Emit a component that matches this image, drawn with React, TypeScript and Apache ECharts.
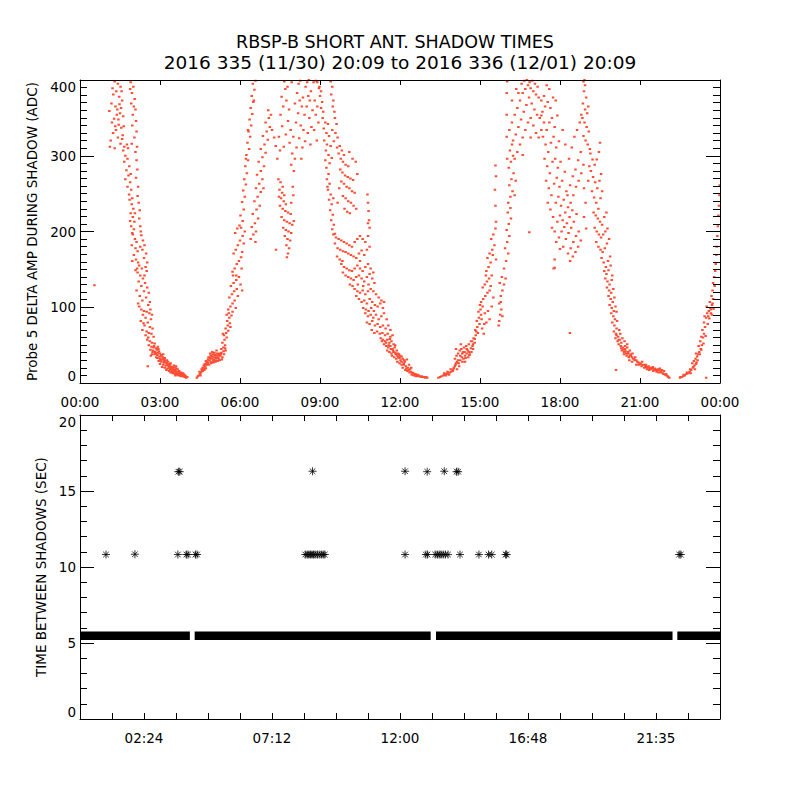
import React, { useEffect, useRef } from 'react';
import * as echarts from 'echarts';

const TITLE_LINE_1 = 'RBSP-B SHORT ANT. SHADOW TIMES';
const TITLE_LINE_2 = '2016 335 (11/30) 20:09 to 2016 336 (12/01) 20:09';
const TOP_Y_NAME = 'Probe 5 DELTA AMP DURING SHADOW (ADC)';
const BOTTOM_Y_NAME = 'TIME BETWEEN SHADOWS (SEC)';

const topTickLabels = ['00:00', '03:00', '06:00', '09:00', '12:00', '15:00', '18:00', '21:00', '00:00'];
const bottomTickHours = [2.4, 7.2, 12, 16.8, 21.6];
const bottomTickLabels = ['02:24', '07:12', '12:00', '16:48', '21:35'];

// ---- top panel: probe 5 delta amplitude (hour of day, ADC) ----
const branch1Upper = [[1.30,398],[1.42,395],[1.52,391],[1.36,385],[1.25,381],[1.47,378],[1.58,373],[1.18,369],[1.33,365],[1.40,361],[1.10,359],[1.50,356],[1.62,352],[1.28,349],[1.20,344],[1.45,341],[1.55,337],[1.35,334],[1.24,330],[1.60,327],[1.42,324],[1.15,320],[1.52,316],[1.66,312],[1.30,310],[1.38,354],[1.48,368],[1.22,389],[1.56,385],[1.32,339],[1.12,312],[1.64,339],[1.44,348],[1.54,363],
[1.90,397],[2.00,391],[1.95,383],[2.05,375],[1.92,369],[2.08,361],[1.98,354],[2.10,346],[1.96,340],[2.12,332],[2.04,324],[1.94,316],[2.14,312],[2.02,365],[1.88,388]];
const branch1Middle = [[1.62,307],[1.70,300],[1.78,296],[1.66,292],[1.85,286],[1.74,281],[1.82,274],[1.70,269],[1.88,265],[1.78,259],[1.92,255],[1.84,249],[2.08,305],[2.12,294],[2.15,282],[2.10,271],[2.18,259],[2.16,247],[1.96,244],[1.76,315],[1.58,322],[1.80,310],[1.90,276],
[1.86,242],[1.94,236],[2.00,230],[1.90,224],[1.98,219],[2.04,213],[1.92,207],[2.02,203],[2.20,238],[2.24,228],[2.22,217],[2.26,207],[2.28,200],[1.96,198],[2.06,224],[1.88,214],
[1.98,196],[2.06,190],[2.12,186],[1.94,182],[2.08,178],[2.16,174],[2.02,169],[2.10,163],[2.18,159],[2.30,195],[2.36,188],[2.42,182],[2.34,176],[2.48,171],[2.40,165],[2.52,159],[2.46,153],[2.14,151],[2.22,155],[1.96,161],[2.26,180],
[2.08,149],[2.16,146],[2.26,142],[2.36,138],[2.20,134],[2.44,132],[2.30,128],[2.52,126],[2.12,122],[2.40,121],[2.58,119],[2.24,115],[2.48,113],[2.34,109],[2.62,107],[2.18,105],[2.56,103],[2.42,142],[2.50,148],[2.32,151]];
const branch1Lower = [[2.22,101],[2.30,97],[2.40,95],[2.50,94],[2.60,92],[2.36,90],[2.46,86],[2.66,84],[2.28,82],[2.54,80],[2.42,76],[2.62,74],[2.72,72],[2.34,70],[2.50,68],[2.58,66],[2.68,65],[2.46,63],[2.76,61],[2.56,60],[2.38,79],[2.70,90],[2.64,97],
[2.52,57],[2.62,55],[2.70,53],[2.80,52],[2.58,50],[2.68,48],[2.76,47],[2.86,46],[2.64,44],[2.74,43],[2.82,41],[2.92,40],[3.00,39],[2.70,38],[2.80,38],[2.90,37],[3.06,36],[2.98,35],[2.86,34],[3.12,38],[2.72,41],[2.94,45],[2.66,36],
[2.90,33],[3.00,32],[3.10,31],[3.20,30],[2.95,29],[3.05,28],[3.15,27],[3.25,26],[3.35,25],[3.00,25],[3.12,24],[3.22,23],[3.32,22],[3.42,21],[3.08,21],[3.18,20],[3.28,19],[3.38,18],[3.48,18],[3.56,17],[3.24,17],[3.34,16],[3.44,16],[3.62,19],[3.30,28],[3.40,26],[3.52,23],[3.14,32],[3.60,22],
[3.52,15],[3.60,14],[3.68,13],[3.40,14],[3.48,13],[3.56,12],[3.64,11],[3.74,11],[3.82,10],[3.58,10],[3.70,10],[3.78,9],[3.86,9],[3.92,8],[3.98,7],[4.02,8],[3.72,16],[3.80,14],[3.88,12],[3.94,10],[3.66,15]];
const branch2Lower = [[4.38,7],[4.42,9],[4.46,10],[4.50,12],[4.54,14],[4.58,16],[4.62,18],[4.66,20],[4.70,22],[4.56,18],[4.60,20],[4.64,23],[4.68,25],[4.74,26],[4.52,10],[4.48,15],
[4.78,28],[4.86,30],[4.94,32],[5.02,31],[5.10,33],[5.18,34],[5.26,36],[4.82,34],[4.90,36],[4.98,38],[5.06,37],[5.14,39],[5.22,39],[5.30,40],[4.76,24],[4.84,24],[4.92,26],[5.00,27],[5.08,28],[5.16,29],[5.24,30],[5.34,34],[5.40,38],[5.46,43],[4.88,39],[4.96,41],[5.04,40],[5.12,43],
[5.30,45],[5.38,47],[5.44,50],[5.34,53],[5.42,57],[5.50,60],[5.40,63],[5.48,66],[5.56,69],[5.46,72],[5.54,76],[5.62,79],[5.52,82],[5.60,86],[5.68,89],[5.58,92],[5.72,94],[5.50,90],[5.64,74],[5.36,65]];
const branch2Middle = [[5.56,97],[5.64,101],[5.72,105],[5.80,109],[5.60,113],[5.70,117],[5.78,121],[5.88,124],[5.66,128],[5.76,132],[5.86,136],[5.96,140],[5.74,142],[5.92,115],[6.02,130],[5.84,99],[6.08,122],
[5.72,147],[5.80,151],[5.88,157],[5.96,161],[6.04,166],[5.76,171],[5.84,176],[5.92,182],[6.00,188],[6.10,194],[5.82,198],[5.90,204],[5.98,208],[6.08,173],[6.14,184],[6.18,200],[5.86,142],[6.06,151],
[6.04,205],[6.10,214],[6.02,221],[6.14,229],[6.08,239],[6.18,246],[6.12,254],[6.22,262],[6.16,269],[6.26,277],[6.20,286],[6.30,294],[6.24,301],[6.34,309],[6.28,317],[6.38,325],[6.32,332],[6.42,340],[6.36,348],[6.46,355],[6.40,363],[6.50,371],[6.44,379],[6.54,387],[6.48,395],[6.58,399],[6.52,373],[6.30,334],[6.22,296]];
const branch2Strand = [[6.40,190],[6.50,196],[6.60,200],[6.44,206],[6.56,211],[6.68,217],[6.48,223],[6.62,229],[6.74,234],[6.54,240],[6.66,246],[6.78,252],[6.60,257],[6.72,263],[6.84,269],[6.64,275],[6.78,280],[6.90,286],[6.70,292],[6.84,298],[6.96,304],[6.78,309],[6.92,315],[7.04,321],[6.86,326],[7.00,332],[7.12,338],[6.96,344],[7.08,350],[7.16,354],[7.06,360],[7.20,334],[7.28,324],[7.34,313],[6.88,257],[6.58,186]];
const dipCluster = [[7.44,269],[7.52,265],[7.60,259],[7.48,255],[7.58,251],[7.66,248],[7.54,244],[7.64,240],[7.72,236],[7.50,234],[7.60,230],[7.70,227],[7.80,225],[7.90,223],[7.56,219],[7.66,215],[7.76,213],[7.86,211],[7.96,209],[7.62,205],[7.72,202],[7.82,200],[7.92,198],[8.02,214],[7.68,194],[7.78,190],[7.88,188],[7.74,182],[7.84,178],[7.80,171],[7.76,166],[7.92,238],[8.00,248],[7.98,259],[7.46,246]];
const morningCloud = [[7.40,296],[7.50,307],[7.46,325],[7.58,339],[7.52,354],[7.62,365],[7.56,378],[7.70,388],[7.66,398],[7.78,391],[7.74,373],[7.84,361],[7.80,346],[7.90,334],[7.86,317],[7.96,303],[7.92,288],[8.02,280],[8.06,296],[8.00,325],[8.10,344],[8.06,369],[8.14,383],[8.20,395],[8.24,373],[8.18,356],[8.28,340],[8.22,323],[8.34,311],[8.30,296],[8.38,334],[8.42,354],[8.36,377],[8.46,391],[8.52,397],[8.56,379],[8.50,365],[8.60,350],[8.54,330],[8.64,315],[8.68,338],[8.72,360],[8.66,385],[8.76,397],[8.80,373],[8.84,354],[8.78,334],[8.88,320],[8.94,344],[8.90,365],[8.96,389],[8.12,311],[8.44,319],[7.64,312],[7.72,328],[8.58,400],[8.26,399],[7.94,397],[8.86,399],[8.32,365],[8.62,373]];
const branch3Upper = [[8.90,397],[8.98,391],[9.04,385],[9.40,398],[9.46,391],[9.00,379],[9.08,371],[9.42,381],[9.50,373],[9.04,363],[9.12,358],[9.48,365],[9.54,358],[9.10,350],[9.20,344],[9.30,342],[9.56,350],[9.62,342],[9.14,336],[9.24,330],[9.34,326],[9.46,334],[9.58,330],[9.66,324],[9.16,320],[9.26,315],[9.40,313],[9.52,319],[9.64,311],[9.22,307],[9.32,301],[9.44,297],[9.70,303],[9.20,294],[9.36,290],
[9.74,313],[9.82,307],[9.90,301],[9.78,296],[9.86,292],[9.96,288],[10.06,286],[9.76,282],[9.84,278],[9.94,274],[10.04,272],[10.14,270],[10.24,268],[9.80,266],[9.90,263],[10.00,259],[10.10,257],[10.20,253],[10.30,251],[9.86,247],[9.96,244],[10.06,240],[10.16,238],[10.26,234],[10.36,230],[9.92,230],[10.02,226],[10.12,224],[10.40,276],[10.34,292],[10.22,296],[10.10,305],[9.72,257],[9.66,238],
[9.24,284],[9.32,276],[9.26,269],[9.36,263],[9.30,255],[9.40,249],[9.34,242],[9.44,236],[9.38,228],[9.48,222],[9.42,215],[9.52,209],[9.46,203],[9.56,197],[9.28,259],[9.50,244],
[10.78,249],[10.80,238],[10.82,227],[10.84,215],[10.86,205],[10.80,211]];
const branch3Middle = [[9.50,196],[9.60,192],[9.70,190],[9.80,188],[9.90,186],[10.00,184],[10.10,182],[10.20,180],[10.30,186],[10.40,190],[10.50,194],[10.60,190],[10.70,186],[10.80,194],[9.56,184],[9.66,178],[9.76,176],[9.86,174],[9.96,173],[10.06,171],[10.16,169],[10.26,167],[10.36,165],[10.46,171],[10.56,175],[10.66,169],[10.76,176],[10.86,180],[9.64,167],[9.74,163],[9.84,161],[10.50,161],
[9.80,157],[9.90,153],[10.00,151],[10.10,149],[10.20,148],[10.30,151],[10.40,155],[10.50,151],[10.60,148],[10.70,153],[10.80,157],[10.90,151],[11.00,146],[9.86,146],[9.96,142],[10.06,140],[10.16,138],[10.26,136],[10.36,140],[10.46,142],[10.56,138],[10.66,134],[10.76,140],[10.86,144],[10.96,138],[11.04,132],[10.12,130],[10.22,128],[10.42,130],[10.62,128],[10.82,130],
[10.30,124],[10.40,121],[10.50,119],[10.60,122],[10.70,117],[10.80,121],[10.90,124],[11.00,121],[11.10,117],[11.20,113],[11.30,109],[10.36,115],[10.46,111],[10.56,107],[10.66,109],[10.76,105],[10.86,111],[10.96,107],[11.06,103],[11.16,101],[11.26,105],[11.36,99],[10.62,99],[10.72,97],[10.82,95],[10.92,99],[11.02,95],[11.40,107]];
const branch3Lower = [[10.70,92],[10.80,88],[10.90,90],[11.00,86],[11.10,90],[11.20,84],[11.30,88],[11.40,92],[11.50,84],[10.76,80],[10.86,78],[10.96,82],[11.06,76],[11.16,78],[11.26,74],[11.36,76],[11.46,72],[11.56,76],[11.64,70],[10.94,70],[11.04,66],[11.14,68],[11.24,65],[11.34,66],[11.44,63],[11.54,65],[11.64,61],[11.72,63],
[11.28,59],[11.36,57],[11.44,55],[11.52,57],[11.60,53],[11.68,55],[11.76,51],[11.40,51],[11.48,49],[11.56,47],[11.64,49],[11.72,45],[11.80,47],[11.88,43],[11.52,43],[11.60,41],[11.68,39],[11.76,41],[11.84,38],[11.92,39],[12.00,36],[11.70,36],[11.78,34],[11.86,32],[11.94,34],[12.02,30],[12.10,32],[12.18,28],[11.90,28],[11.98,26],[12.06,24],[12.14,26],[12.22,22],[12.30,20],[12.38,18],[12.10,20],[12.20,17],[12.28,16],[12.36,14],[12.46,14],[12.54,12],[12.62,11],[12.70,10],[12.44,11],[12.52,10],[12.60,9],[12.68,9],[12.78,8],[12.86,8],[12.94,7],[13.02,7],[12.34,24],[12.26,31]];
const branch4Lower = [[13.44,7],[13.50,8],[13.56,9],[13.62,10],[13.68,11],[13.74,12],[13.80,13],[13.86,14],[13.92,15],[13.98,16],[13.66,13],[13.78,15],[13.90,18],[13.72,10],[13.84,11],
[14.02,20],[14.08,24],[14.14,28],[14.06,32],[14.12,36],[14.20,26],[14.26,30],[14.32,34],[14.18,39],[14.24,43],[14.38,32],[14.44,36],[14.50,39],[14.30,45],[14.56,34],[14.62,38],[14.68,41],[14.40,47],[14.48,49],[14.74,45],[14.58,51],[14.66,55],[14.80,53],[14.14,18],[14.36,41],[14.54,43],[14.72,49],[14.22,22],[14.44,28],[14.10,45],[14.28,51],
[14.76,59],[14.84,63],[14.92,66],[14.82,70],[14.90,74],[14.98,78],[14.88,82],[14.96,86],[15.04,90],[14.94,94],[15.02,97],[15.10,101],[15.18,92],[15.24,80],[15.08,72],[15.14,65],[15.30,95],[15.36,84],[15.00,103],[15.44,101]];
const branch4Upper = [[15.04,107],[15.12,111],[15.20,115],[15.28,119],[15.36,122],[15.10,126],[15.18,130],[15.26,134],[15.34,138],[15.44,142],[15.50,113],[15.72,105],[15.78,115],[15.84,122],[15.74,132],[15.82,140],[15.90,130],[15.96,138],[15.22,142],[15.40,128],
[15.72,82],[15.76,90],[15.80,97],[15.70,76],[15.84,88],[15.78,107],
[15.24,148],[15.32,153],[15.40,159],[15.28,165],[15.36,171],[15.46,176],[15.54,182],[15.42,190],[15.50,196],[15.58,204],[15.90,151],[15.98,161],[16.06,171],[15.94,178],[16.02,186],[16.10,194],[16.00,202],[16.08,210],[16.16,217],[16.04,225],[16.14,231],[15.60,163],[15.60,213],[15.58,234],[15.56,255],[15.60,273],[15.58,287],[15.48,169],
[16.06,238],[16.14,246],[16.22,253],[16.10,261],[16.18,269],[16.26,277],[16.08,284],[16.16,292],[16.24,300],[16.12,307],[16.20,315],[16.30,248],[16.34,267],[16.02,296],[16.00,325],[16.00,354],[16.00,383],[16.02,398]];
const afternoonCloud = [[16.10,334],[16.20,344],[16.30,354],[16.40,363],[16.50,373],[16.60,383],[16.70,388],[16.80,393],[16.90,389],[17.00,385],[17.10,381],[17.20,377],[17.30,373],[17.40,379],[16.24,320],[16.34,328],[16.44,338],[16.54,348],[16.64,358],[16.74,367],[16.84,377],[16.94,369],[17.04,361],[17.14,354],[17.24,350],[17.34,358],[17.44,365],[17.54,371],[17.64,363],[16.40,305],[16.50,315],[16.60,324],[16.70,334],[16.80,344],[16.90,350],[17.00,340],[17.10,330],[17.20,324],[16.44,383],[16.56,395],[16.66,399],[16.76,400],[16.86,397],[16.96,399],[17.06,395],[17.16,391],[16.30,296],[16.60,301],[16.90,324],[17.30,334],[16.20,373],[16.36,388]];
const eveningCloud = [[17.30,353],[17.40,344],[17.50,334],[17.60,344],[17.70,350],[17.80,338],[17.36,325],[17.46,315],[17.56,305],[17.66,317],[17.76,325],[17.86,311],[17.96,319],[17.42,296],[17.52,286],[17.62,277],[17.72,292],[17.82,296],[17.92,284],[18.02,292],[17.48,267],[17.58,257],[17.68,248],[17.78,263],[17.88,271],[17.98,259],[18.08,267],[18.18,279],[17.54,238],[17.64,229],[17.74,219],[17.84,238],[17.94,246],[18.04,234],[18.14,242],[18.24,253],[17.70,205],[17.80,200],[17.90,213],[18.00,221],[18.10,215],[18.20,225],[18.30,232],[17.86,186],[17.96,192],[18.06,200],[18.16,206],[18.26,211],[18.36,219],[18.46,228],[18.00,177],[18.12,180],[18.22,190],[18.32,198],[18.42,205],[18.52,213],[18.62,223],[18.30,171],[18.40,178],[18.50,186],[18.60,194],[18.70,200],[18.38,161],[18.48,167],[18.58,173],[18.68,180],[18.78,188],[18.28,248],[18.38,261],[18.48,273],[18.58,282],[18.68,294],[18.78,305],[18.40,238],[18.50,248],[18.60,259],[18.70,267],[18.80,277],[18.88,288],[18.34,296],[18.44,311],[18.54,325],[18.64,334],[18.74,344],[18.20,315],[18.10,334],[17.90,353],[17.84,373],[17.74,377],[17.60,388],[17.50,393],[18.90,257],[18.96,238],[18.90,219],[18.98,204],[17.76,151],[17.80,163],
[18.88,398],[18.94,393],[18.90,385],[18.98,377],[18.86,369],[18.94,361],[19.02,356],[18.84,350],[18.92,344],[19.00,338],[19.08,332],[18.88,326],[18.96,320],[19.04,315],[19.12,309],[18.80,354],[19.06,365],[18.92,400]];
const branch5Upper = [[19.14,303],[19.22,295],[19.30,288],[19.38,295],[19.46,305],[19.50,317],[19.16,280],[19.24,272],[19.32,265],[19.40,257],[19.48,267],[19.54,276],[19.20,253],[19.28,245],[19.36,238],[19.44,230],[19.52,244],[19.58,253],[19.10,286],[19.06,267],
[19.26,225],[19.34,221],[19.42,217],[19.50,213],[19.58,209],[19.66,219],[19.74,225],[19.30,205],[19.38,200],[19.46,196],[19.54,192],[19.62,196],[19.70,200],[19.78,204],[19.36,186],[19.44,180],[19.52,176],[19.60,173],[19.68,178],[19.76,184],[19.84,190],[19.56,165],[19.64,159],[19.72,153],[19.80,161],[19.88,167],[19.66,148],[19.74,144],[19.82,149],[19.90,155],[19.96,142],
[19.70,138],[19.78,134],[19.86,130],[19.94,136],[19.76,126],[19.84,122],[19.92,119],[20.00,124],[19.82,115],[19.90,111],[19.98,107],[20.04,113],[19.86,103],[19.94,99],[20.02,95],[20.08,101],[20.12,94]];
const branch5Lower = [[19.92,92],[20.00,88],[20.06,84],[19.96,80],[20.04,76],[20.12,72],[20.02,68],[20.10,65],[20.18,61],[20.26,65],[20.08,59],[20.16,55],[20.24,57],[20.34,59],[20.42,55],[20.20,51],[20.30,53],[20.14,82],[20.22,70],
[20.28,49],[20.36,47],[20.44,45],[20.52,47],[20.32,43],[20.40,41],[20.48,39],[20.56,41],[20.64,38],[20.40,38],[20.50,36],[20.58,34],[20.66,36],[20.74,32],[20.82,34],[20.60,30],[20.70,28],[20.80,30],[20.90,28],[21.00,26],[21.08,28],[20.72,39],[20.62,43],[20.86,24],[20.96,24],[21.06,22],[21.16,24],
[21.16,20],[21.24,21],[21.32,22],[21.40,20],[21.48,21],[21.56,19],[21.26,18],[21.34,17],[21.42,18],[21.50,16],[21.58,17],[21.66,18],[21.74,19],[21.62,15],[21.70,14],[21.78,15],[21.86,13],[21.90,16],[21.94,11],[22.00,10],[22.06,8],[22.10,7],[21.82,17],[21.22,24]];
const branch6 = [[22.50,7],[22.56,8],[22.62,9],[22.68,10],[22.74,12],[22.80,13],[22.86,15],[22.92,17],[22.98,20],[23.04,23],[22.96,26],[23.02,29],[23.08,32],[23.14,35],[23.12,27],[23.18,38],[23.22,41],[23.28,45],[23.32,50],[23.26,55],[23.36,60],[23.40,65],[23.34,70],[23.44,74],[23.40,80],[23.48,86],[23.52,92],[23.58,95],[23.64,99],[23.70,103],[23.76,98],[23.50,101],[23.62,107],[23.68,115],[23.72,122],[23.74,132],[23.78,140],[23.82,148],[23.84,157],[23.86,169],[23.88,180],[23.90,194],[23.92,207],[23.94,221],[23.96,234],[23.98,248],[23.99,261],[23.56,88],[23.66,92],[23.74,111],[23.80,128],[23.70,90],[23.42,88],[23.30,61],[23.20,49],[23.10,39],[23.06,18],[22.90,13]];
const denseLowerPoints = [[2.78,49],[2.88,44],[2.96,42],[3.04,37],[2.84,39],[3.10,34],[3.18,33],[3.26,30],[3.02,30],[3.16,29],[3.30,24],[3.38,23],[3.46,21],[3.36,20],[3.44,19],[3.54,20],[3.50,16],[3.58,16],[3.66,18],[3.62,12],[3.70,13],[3.76,12],[3.84,11],[3.90,11],[3.96,9],[3.86,13],[3.76,14],[3.46,15],[3.20,27],[2.92,48],
[4.72,29],[4.80,31],[4.88,33],[4.96,35],[5.04,34],[5.12,36],[5.20,37],[5.28,38],[4.80,26],[4.90,28],[5.00,29],[5.10,30],[5.20,32],[5.32,31],[5.38,42],[5.44,46],[4.60,16],[4.66,17],[4.72,19],
[11.32,55],[11.48,53],[11.58,50],[11.66,45],[11.74,43],[11.82,40],[11.90,36],[11.98,33],[12.06,28],[12.14,24],[12.24,19],[12.32,17],[12.40,15],[12.50,13],[12.58,12],[12.66,11],[12.74,9],[12.82,9],[12.90,8],[12.98,8],[12.06,35],[11.96,38],[11.62,58],[11.82,50],[12.16,30],[12.42,20],
[14.10,26],[14.18,30],[14.26,36],[14.34,39],[14.42,41],[14.50,45],[14.58,41],[14.66,46],[14.74,51],[14.34,28],[14.46,33],[14.60,37],[14.70,55],[14.80,58],[14.86,68],[15.06,84],[15.16,78],[14.00,18],[14.06,22],
[20.30,46],[20.38,44],[20.46,42],[20.54,39],[20.62,36],[20.70,34],[20.78,32],[20.86,30],[20.94,27],[21.02,25],[21.10,24],[21.20,22],[21.30,20],[21.38,19],[21.46,19],[21.54,18],[21.64,16],[21.72,17],[21.80,14],[21.88,12],[21.98,12],[22.04,9],[20.52,51],[20.44,49],[20.20,57],[20.12,63],
[22.52,8],[22.64,11],[22.76,14],[22.88,18],[23.00,21],[23.10,25],[23.16,30],[23.24,38],[23.30,44],[23.38,52],[23.46,62],[23.54,78],[23.60,85],[23.66,97],[23.72,105]];
const isolatedPoints = [[0.54,129],[2.54,22],[7.35,176],[16.85,199],[17.80,152],[18.37,66],[20.10,17],[23.48,7]];

// ---- bottom panel: time between shadows (hour of day, seconds) ----
const shadowBandLevel = 5.47;
const shadowBandSegments = [[0.03, 4.12], [4.30, 13.15], [13.35, 22.22], [22.40, 24.0]];
const doubleIntervalPoints = [[0.975,10.82],[2.06,10.84],[3.67,10.82],[3.99,10.82],[4.05,10.82],[4.33,10.82],[4.39,10.82],
[8.45,10.82],[8.52,10.82],[8.58,10.82],[8.64,10.82],[8.70,10.82],[8.76,10.82],[8.82,10.82],[8.90,10.82],[8.97,10.82],[9.05,10.82],[9.12,10.82],[9.18,10.82],
[12.19,10.82],[12.97,10.82],[13.03,10.82],[13.32,10.82],[13.40,10.82],[13.47,10.82],[13.54,10.82],[13.62,10.82],[13.70,10.82],[13.80,10.82],
[14.25,10.82],[14.96,10.82],[15.32,10.82],[15.44,10.82],[15.96,10.82],[16.00,10.82],[22.47,10.82],[22.53,10.82]];
const tripleIntervalPoints = [[3.69,16.27],[3.74,16.27],[8.72,16.30],[12.19,16.30],[13.02,16.27],[13.66,16.30],[14.12,16.27],[14.18,16.27]];

const FONT = 'DejaVu Sans';
const RED = '#ff2000';
const ASTERISK = 'path://M4 0V8M0 4H8M1.2 1.2L6.8 6.8M1.2 6.8L6.8 1.2';

const axisLine = () => ({ show: true, lineStyle: { color: '#000', width: 1 } });
const tick = (len: number) => ({ show: true, inside: true, length: len, lineStyle: { color: '#000', width: 1 } });
const minor = (n: number) => ({ show: true, splitNumber: n, length: 7, lineStyle: { color: '#000', width: 1 } });
const label = () => ({ color: '#000', fontSize: 13.5, fontFamily: FONT });
const nameStyle = () => ({ color: '#000', fontSize: 13.5, fontFamily: FONT });

function App() {
  const ref = useRef<HTMLDivElement>(null);

  useEffect(() => {
    document.body.style.margin = '0';
    const chart = echarts.init(ref.current!, undefined, { renderer: 'svg' });

    const topPoints = [
      ...branch1Upper, ...branch1Middle, ...branch1Lower,
      ...branch2Lower, ...branch2Middle, ...branch2Strand,
      ...dipCluster, ...morningCloud,
      ...branch3Upper, ...branch3Middle, ...branch3Lower,
      ...branch4Lower, ...branch4Upper, ...afternoonCloud,
      ...eveningCloud, ...branch5Upper, ...branch5Lower,
      ...branch6, ...denseLowerPoints, ...isolatedPoints,
    ];

    const bottomFormatter = (v: number) => {
      const i = bottomTickHours.findIndex((h) => Math.abs(h - v) < 1e-3);
      return i >= 0 ? bottomTickLabels[i] : '';
    };

    const bandSeries = shadowBandSegments.map(([a, b]) => ({
      type: 'line',
      xAxisIndex: 2,
      yAxisIndex: 2,
      data: [[a, shadowBandLevel], [b, shadowBandLevel]],
      showSymbol: false,
      lineStyle: { color: '#000', width: 8.5 },
      silent: true,
    }));

    const topRect = { left: 80, top: 80, width: 640, height: 303 };
    const bottomRect = { left: 80, top: 415, width: 640, height: 304 };

    chart.setOption({
      animation: false,
      title: [
        { text: TITLE_LINE_1, left: 395, top: 33, padding: 0, textAlign: 'center',
          textStyle: { color: '#000', fontSize: 17.5, fontWeight: 'normal', fontFamily: FONT } },
        { text: TITLE_LINE_2, left: 400, top: 52.5, padding: 0, textAlign: 'center',
          textStyle: { color: '#000', fontSize: 18.5, fontWeight: 'normal', fontFamily: FONT } },
      ],
      // grids 2 and 3 carry the mirrored (top / right) axes; their axes are inverted so
      // that "on zero" places them on the top and right edges of the frames.
      grid: [{ ...topRect }, { ...bottomRect }, { ...topRect }, { ...bottomRect }],
      xAxis: [
        {
          gridIndex: 0, type: 'value', min: 0, max: 24, interval: 3, position: 'bottom', z: 10,
          axisLine: axisLine(), axisTick: tick(5),
          axisLabel: { ...label(), margin: 12, formatter: (v: number) => topTickLabels[Math.round(v / 3)] ?? '' },
          splitLine: { show: false },
        },
        {
          gridIndex: 2, type: 'value', min: 0, max: 24, interval: 3, position: 'top', inverse: true, z: 10,
          axisLine: axisLine(), axisTick: tick(5),
          axisLabel: { show: false }, splitLine: { show: false },
        },
        {
          gridIndex: 1, type: 'value', min: 0, max: 24, interval: 1.2, position: 'bottom', z: 10,
          axisLine: axisLine(), axisTick: tick(6),
          axisLabel: { ...label(), margin: 12, formatter: bottomFormatter },
          splitLine: { show: false },
        },
        {
          gridIndex: 3, type: 'value', min: 0, max: 24, interval: 1.2, position: 'top', inverse: true, z: 10,
          axisLine: axisLine(), axisTick: tick(6),
          axisLabel: { show: false }, splitLine: { show: false },
        },
      ],
      yAxis: [
        {
          gridIndex: 0, type: 'value', min: 0, max: 400, interval: 100, position: 'left', z: 10,
          name: TOP_Y_NAME, nameLocation: 'middle', nameGap: 40, nameTextStyle: nameStyle(),
          axisLine: axisLine(), axisTick: tick(14), minorTick: minor(10),
          axisLabel: { ...label(), margin: 4, verticalAlignMinLabel: 'bottom', verticalAlignMaxLabel: 'top' },
          splitLine: { show: false },
        },
        {
          gridIndex: 2, type: 'value', min: 0, max: 400, interval: 100, position: 'right', inverse: true, z: 10,
          axisLine: axisLine(), axisTick: tick(14), minorTick: minor(10),
          axisLabel: { show: false }, splitLine: { show: false },
        },
        {
          gridIndex: 1, type: 'value', min: 0, max: 20, interval: 5, position: 'left', z: 10,
          name: BOTTOM_Y_NAME, nameLocation: 'middle', nameGap: 30, nameTextStyle: nameStyle(),
          axisLine: axisLine(), axisTick: tick(14), minorTick: minor(5),
          axisLabel: { ...label(), margin: 4, verticalAlignMinLabel: 'bottom', verticalAlignMaxLabel: 'top' },
          splitLine: { show: false },
        },
        {
          gridIndex: 3, type: 'value', min: 0, max: 20, interval: 5, position: 'right', inverse: true, z: 10,
          axisLine: axisLine(), axisTick: tick(14), minorTick: minor(5),
          axisLabel: { show: false }, splitLine: { show: false },
        },
      ],
      series: [
        {
          type: 'scatter', xAxisIndex: 0, yAxisIndex: 0, data: topPoints,
          large: true, largeThreshold: 100,
          symbol: 'rect', symbolSize: [2.5, 2], itemStyle: { color: RED }, silent: true,
        },
        ...bandSeries,
        {
          type: 'scatter', xAxisIndex: 2, yAxisIndex: 2,
          data: [...doubleIntervalPoints, ...tripleIntervalPoints],
          symbol: ASTERISK, symbolSize: 8,
          itemStyle: { color: '#000', borderColor: '#000', borderWidth: 1 }, silent: true,
        },
      ],
    });

    return () => chart.dispose();
  }, []);

  return <div ref={ref} style={{ width: 800, height: 800 }} />;
}

export default App;
